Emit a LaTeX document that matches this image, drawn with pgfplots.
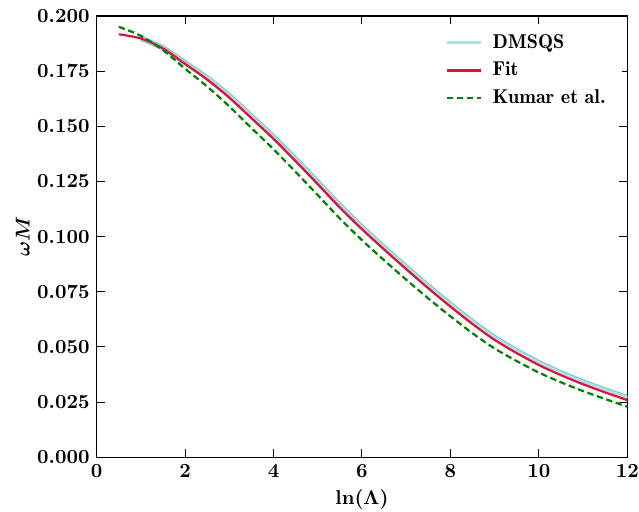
\documentclass[border=0pt]{standalone}
\usepackage{pgfplots}
\pgfplotsset{compat=1.18}
\definecolor{dmsqs}{RGB}{176,224,230}
\definecolor{dmsqsedge}{RGB}{120,195,195}
\definecolor{fitred}{RGB}{220,20,60}
\definecolor{kgreen}{RGB}{0,128,0}
\pgfplotstableread{
x y
1.0 0.1898
1.5 0.1855
2.0 0.1788
2.5 0.1719
3.0 0.1638
3.5 0.1546
4.0 0.1452
4.5 0.1351
5.0 0.1247
5.5 0.1141
6.0 0.1043
6.5 0.0951
7.0 0.0862
7.5 0.0776
8.0 0.0693
8.5 0.0614
9.0 0.0543
9.5 0.0483
10.0 0.0429
10.5 0.0383
11.0 0.0342
11.5 0.0305
12.0 0.0271
}\dmsqstab
\pgfplotstableread{
x y
0.5 0.1917
1.0 0.1898
1.5 0.1853
2.0 0.1783
2.5 0.1712
3.0 0.1630
3.5 0.1537
4.0 0.1443
4.5 0.1342
5.0 0.1238
5.5 0.1132
6.0 0.1034
6.5 0.0942
7.0 0.0853
7.5 0.0766
8.0 0.0683
8.5 0.0604
9.0 0.0532
9.5 0.0472
10.0 0.0418
10.5 0.0372
11.0 0.0331
11.5 0.0294
12.0 0.0259
}\fittab
\pgfplotstableread{
x y
0.5 0.1951
1.0 0.1910
1.5 0.1845
2.0 0.1761
2.5 0.1680
3.0 0.1590
3.5 0.1492
4.0 0.1396
4.5 0.1293
5.0 0.1188
5.5 0.1082
6.0 0.0984
6.5 0.0893
7.0 0.0805
7.5 0.0720
8.0 0.0639
8.5 0.0562
9.0 0.0493
9.5 0.0436
10.0 0.0384
10.5 0.0340
11.0 0.0300
11.5 0.0264
12.0 0.0229
}\kumartab
\begin{document}
\boldmath
\begin{tikzpicture}
\begin{axis}[
  scale only axis,
  width=265.3pt, height=220.65pt,
  xmin=0, xmax=12, ymin=0, ymax=0.2,
  xtick={0,2,4,6,8,10,12},
  ytick={0,0.025,0.05,0.075,0.1,0.125,0.15,0.175,0.2},
  yticklabel style={/pgf/number format/fixed, /pgf/number format/fixed zerofill, /pgf/number format/precision=3},
  scaled y ticks=false,
  tick align=inside,
  xtick pos=both, ytick pos=both,
  major tick length=4pt,
  tick style={black, line width=0.5pt},
  axis line style={line width=0.6pt},
  ticklabel style={font=\bfseries},
  xlabel={$\ln(\Lambda)$},
  ylabel={$\omega M$},
  label style={font=\bfseries},
  xlabel style={yshift=0.5pt},
  ylabel style={yshift=-3pt},
  legend style={at={(0.99,0.978)}, anchor=north east, draw=none,
    font=\fontseries{b}\selectfont\normalsize, row sep=1.5pt,
    nodes={inner xsep=5pt}},
  legend cell align=left,
]
\addplot[dmsqsedge, line width=2.6pt, smooth, forget plot] table {\dmsqstab};
\addplot[dmsqs, line width=1.6pt, smooth] table {\dmsqstab};
\addlegendentry{DMSQS}
\addplot[fitred, line width=1.1pt, smooth] table {\fittab};
\addlegendentry{Fit}
\addplot[kgreen, line width=1.1pt, dash pattern=on 3.2pt off 1.8pt, smooth] table {\kumartab};
\addlegendentry{Kumar et al.}
\end{axis}
\pgfresetboundingbox
\path ([xshift=-48.35pt,yshift=-27.35pt]current axis.south west) rectangle ([xshift=5.85pt,yshift=8pt]current axis.north east);
\end{tikzpicture}
\end{document}
